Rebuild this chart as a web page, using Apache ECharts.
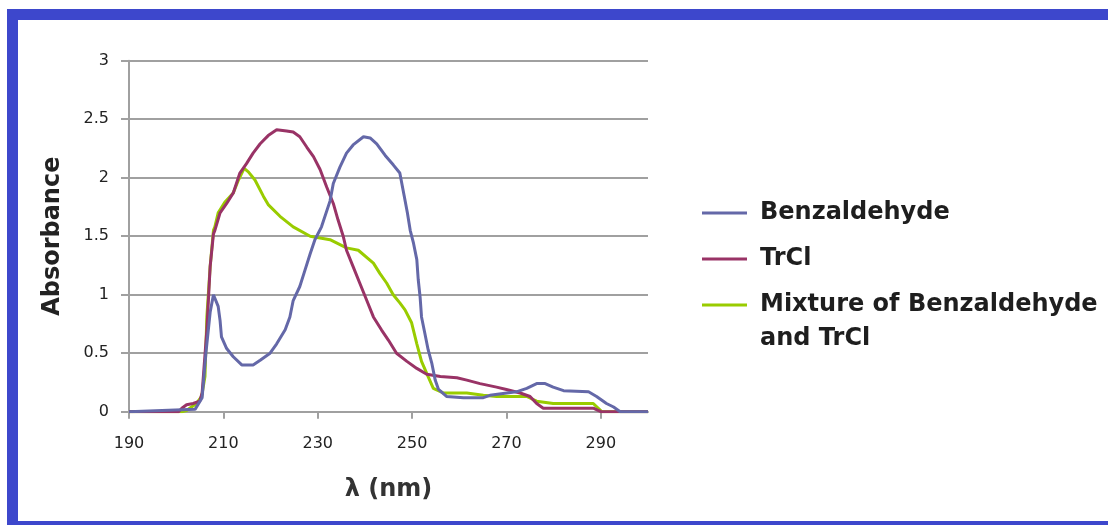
<!DOCTYPE html>
<html><head><meta charset="utf-8">
<script src="https://cdn.jsdelivr.net/npm/echarts@6/dist/echarts.min.js"></script>
<style>
html,body{margin:0;padding:0;background:#fff;}
body{width:1108px;height:525px;overflow:hidden;position:relative;}
#frame{position:absolute;left:7px;top:9px;width:1120px;height:523px;border:11px solid #3d47cc;box-sizing:border-box;background:#fff;}
#chart{position:absolute;left:0;top:0;width:1108px;height:525px;}
</style></head><body>
<div id="frame"></div><div id="chart"></div>
<script>
// ---- data ----
const seriesNames = ['Benzaldehyde', 'TrCl', 'Mixture of Benzaldehyde and TrCl'];
const xTickValues = [190, 210, 230, 250, 270, 290];
const xMin = 190, xMax = 300;
const yMin = 0, yMax = 3, yStep = 0.5;

const benzWl  = [190, 204, 205.5, 206.3, 207.2, 207.9, 208.9, 209.3, 209.6, 210.7, 212.1, 213.9, 216.3, 217.8, 219.9, 221.3, 223.1, 224.1, 224.8, 226.2, 227.3, 228.4, 229.4, 230.8, 232.6, 233.3, 234.7, 236.1, 237.5, 239.7, 241.1, 242.5, 244.3, 246, 247.4, 248.3, 249, 249.6, 250.3, 251, 251.3, 251.7, 252, 252.7, 253.4, 254.2, 254.9, 255.6, 257.3, 260.9, 265.1, 266.5, 269.3, 272.1, 274.3, 276.4, 278.2, 279.9, 282.1, 287.4, 289.1, 291.2, 292.7, 294.1, 300];
const benzAbs = [0, 0.02, 0.12, 0.5, 0.85, 1.0, 0.9, 0.78, 0.64, 0.54, 0.47, 0.40, 0.40, 0.44, 0.50, 0.58, 0.70, 0.81, 0.95, 1.07, 1.21, 1.35, 1.47, 1.58, 1.80, 1.95, 2.09, 2.21, 2.28, 2.35, 2.34, 2.29, 2.19, 2.11, 2.04, 1.85, 1.7, 1.55, 1.44, 1.30, 1.13, 0.98, 0.81, 0.67, 0.53, 0.41, 0.27, 0.19, 0.13, 0.12, 0.12, 0.14, 0.155, 0.17, 0.20, 0.24, 0.24, 0.21, 0.18, 0.17, 0.13, 0.07, 0.04, 0, 0];

const trclWl  = [190, 200.5, 201.2, 202.2, 203.6, 205.0, 205.5, 206.5, 207.2, 207.9, 208.2, 209.3, 210.7, 212.1, 213.5, 214.9, 216.3, 217.8, 219.5, 221.3, 223.4, 224.8, 226.2, 227.7, 229.1, 230.5, 231.9, 233.3, 234.3, 235.4, 236.1, 237.5, 238.9, 240.4, 241.8, 243.5, 245, 246.7, 248.9, 251, 253.1, 256, 259.5, 261.6, 264.4, 267.9, 270, 272.9, 275, 276.4, 277.8, 288.4, 290, 300];
const trclAbs = [0, 0, 0.03, 0.06, 0.07, 0.09, 0.16, 0.70, 1.24, 1.52, 1.55, 1.70, 1.78, 1.87, 2.04, 2.12, 2.21, 2.29, 2.36, 2.41, 2.40, 2.39, 2.35, 2.26, 2.18, 2.07, 1.92, 1.78, 1.64, 1.50, 1.38, 1.24, 1.10, 0.95, 0.81, 0.70, 0.61, 0.50, 0.43, 0.37, 0.32, 0.30, 0.29, 0.27, 0.24, 0.21, 0.19, 0.16, 0.13, 0.07, 0.03, 0.03, 0, 0];

const mixWl  = [190, 201.2, 202.2, 204.3, 205.4, 206.1, 206.5, 207.2, 207.9, 208.2, 208.9, 210.3, 212.1, 213.2, 214.4, 215.3, 216.7, 218.5, 219.5, 222, 224.8, 228.4, 232.6, 236.1, 238.6, 241.8, 243.2, 244.6, 246, 247.4, 248.5, 249.9, 251, 252, 253.4, 254.5, 256.6, 261.6, 265.1, 267.9, 274.3, 276.4, 279.9, 288.4, 290.2, 300];
const mixAbs = [0, 0, 0.01, 0.07, 0.13, 0.30, 0.81, 1.24, 1.55, 1.58, 1.70, 1.79, 1.87, 1.98, 2.08, 2.05, 1.98, 1.84, 1.77, 1.67, 1.58, 1.50, 1.47, 1.40, 1.38, 1.27, 1.18, 1.10, 1.00, 0.93, 0.87, 0.76, 0.58, 0.43, 0.30, 0.20, 0.16, 0.16, 0.14, 0.13, 0.13, 0.09, 0.07, 0.07, 0, 0];

const colors = ['#6468a8', '#993366', '#99cc00'];

// ---- build ----
const zip = (a, b) => a.map((v, i) => [v, b[i]]);
const seriesData = [zip(benzWl, benzAbs), zip(trclWl, trclAbs), zip(mixWl, mixAbs)];
const FONT = 'DejaVu Sans';
const gridColor = '#a0a0a0';

const chart = echarts.init(document.getElementById('chart'), null, {renderer: 'canvas'});
chart.setOption({
  animation: false,
  backgroundColor: 'transparent',
  color: colors,
  grid: {left: 129, right: 460, top: 60.7, bottom: 113.3, containLabel: false},
  xAxis: {
    type: 'value', min: xMin, max: xMax,
    name: 'λ (nm)', nameLocation: 'middle', nameGap: 66,
    nameTextStyle: {fontFamily: FONT, fontWeight: 'bold', fontSize: 24, color: '#333'},
    axisLine: {show: true, onZero: false, lineStyle: {color: gridColor, width: 2}},
    axisTick: {show: true, customValues: xTickValues, length: 7, lineStyle: {color: gridColor, width: 2}},
    axisLabel: {customValues: xTickValues, margin: 24, fontFamily: FONT, fontSize: 16, color: '#222'},
    splitLine: {show: false}
  },
  yAxis: {
    type: 'value', min: yMin, max: yMax, interval: yStep,
    name: 'Absorbance', nameLocation: 'middle', nameGap: 64,
    nameTextStyle: {fontFamily: FONT, fontWeight: 'bold', fontSize: 24, color: '#222'},
    axisLine: {show: true, lineStyle: {color: gridColor, width: 2}},
    axisTick: {show: true, length: 8, lineStyle: {color: gridColor, width: 2}},
    axisLabel: {margin: 20, fontFamily: FONT, fontSize: 16, color: '#222'},
    splitLine: {show: true, lineStyle: {color: gridColor, width: 2}}
  },
  legend: {
    orient: 'vertical', left: 697, top: 194, itemGap: 18,
    icon: 'rect', itemWidth: 45, itemHeight: 3,
    formatter: n => n === seriesNames[2] ? 'Mixture of Benzaldehyde' : n,
    textStyle: {fontFamily: FONT, fontWeight: 'bold', fontSize: 24, color: '#1e1e1e', lineHeight: 28, padding: [0, 0, 0, 8]},
    data: seriesNames
  },
  graphic: [{
    type: 'text', left: 760, top: 327,
    style: {text: 'and TrCl', fontFamily: FONT, fontWeight: 'bold', fontSize: 24, fill: '#1e1e1e'}
  }],
  series: seriesNames.map((n, i) => ({
    name: n, type: 'line', data: seriesData[i], symbol: 'none',
    lineStyle: {width: 3, color: colors[i]}, itemStyle: {color: colors[i]},
    z: 3 - i
  }))
});
</script>
</body></html>
